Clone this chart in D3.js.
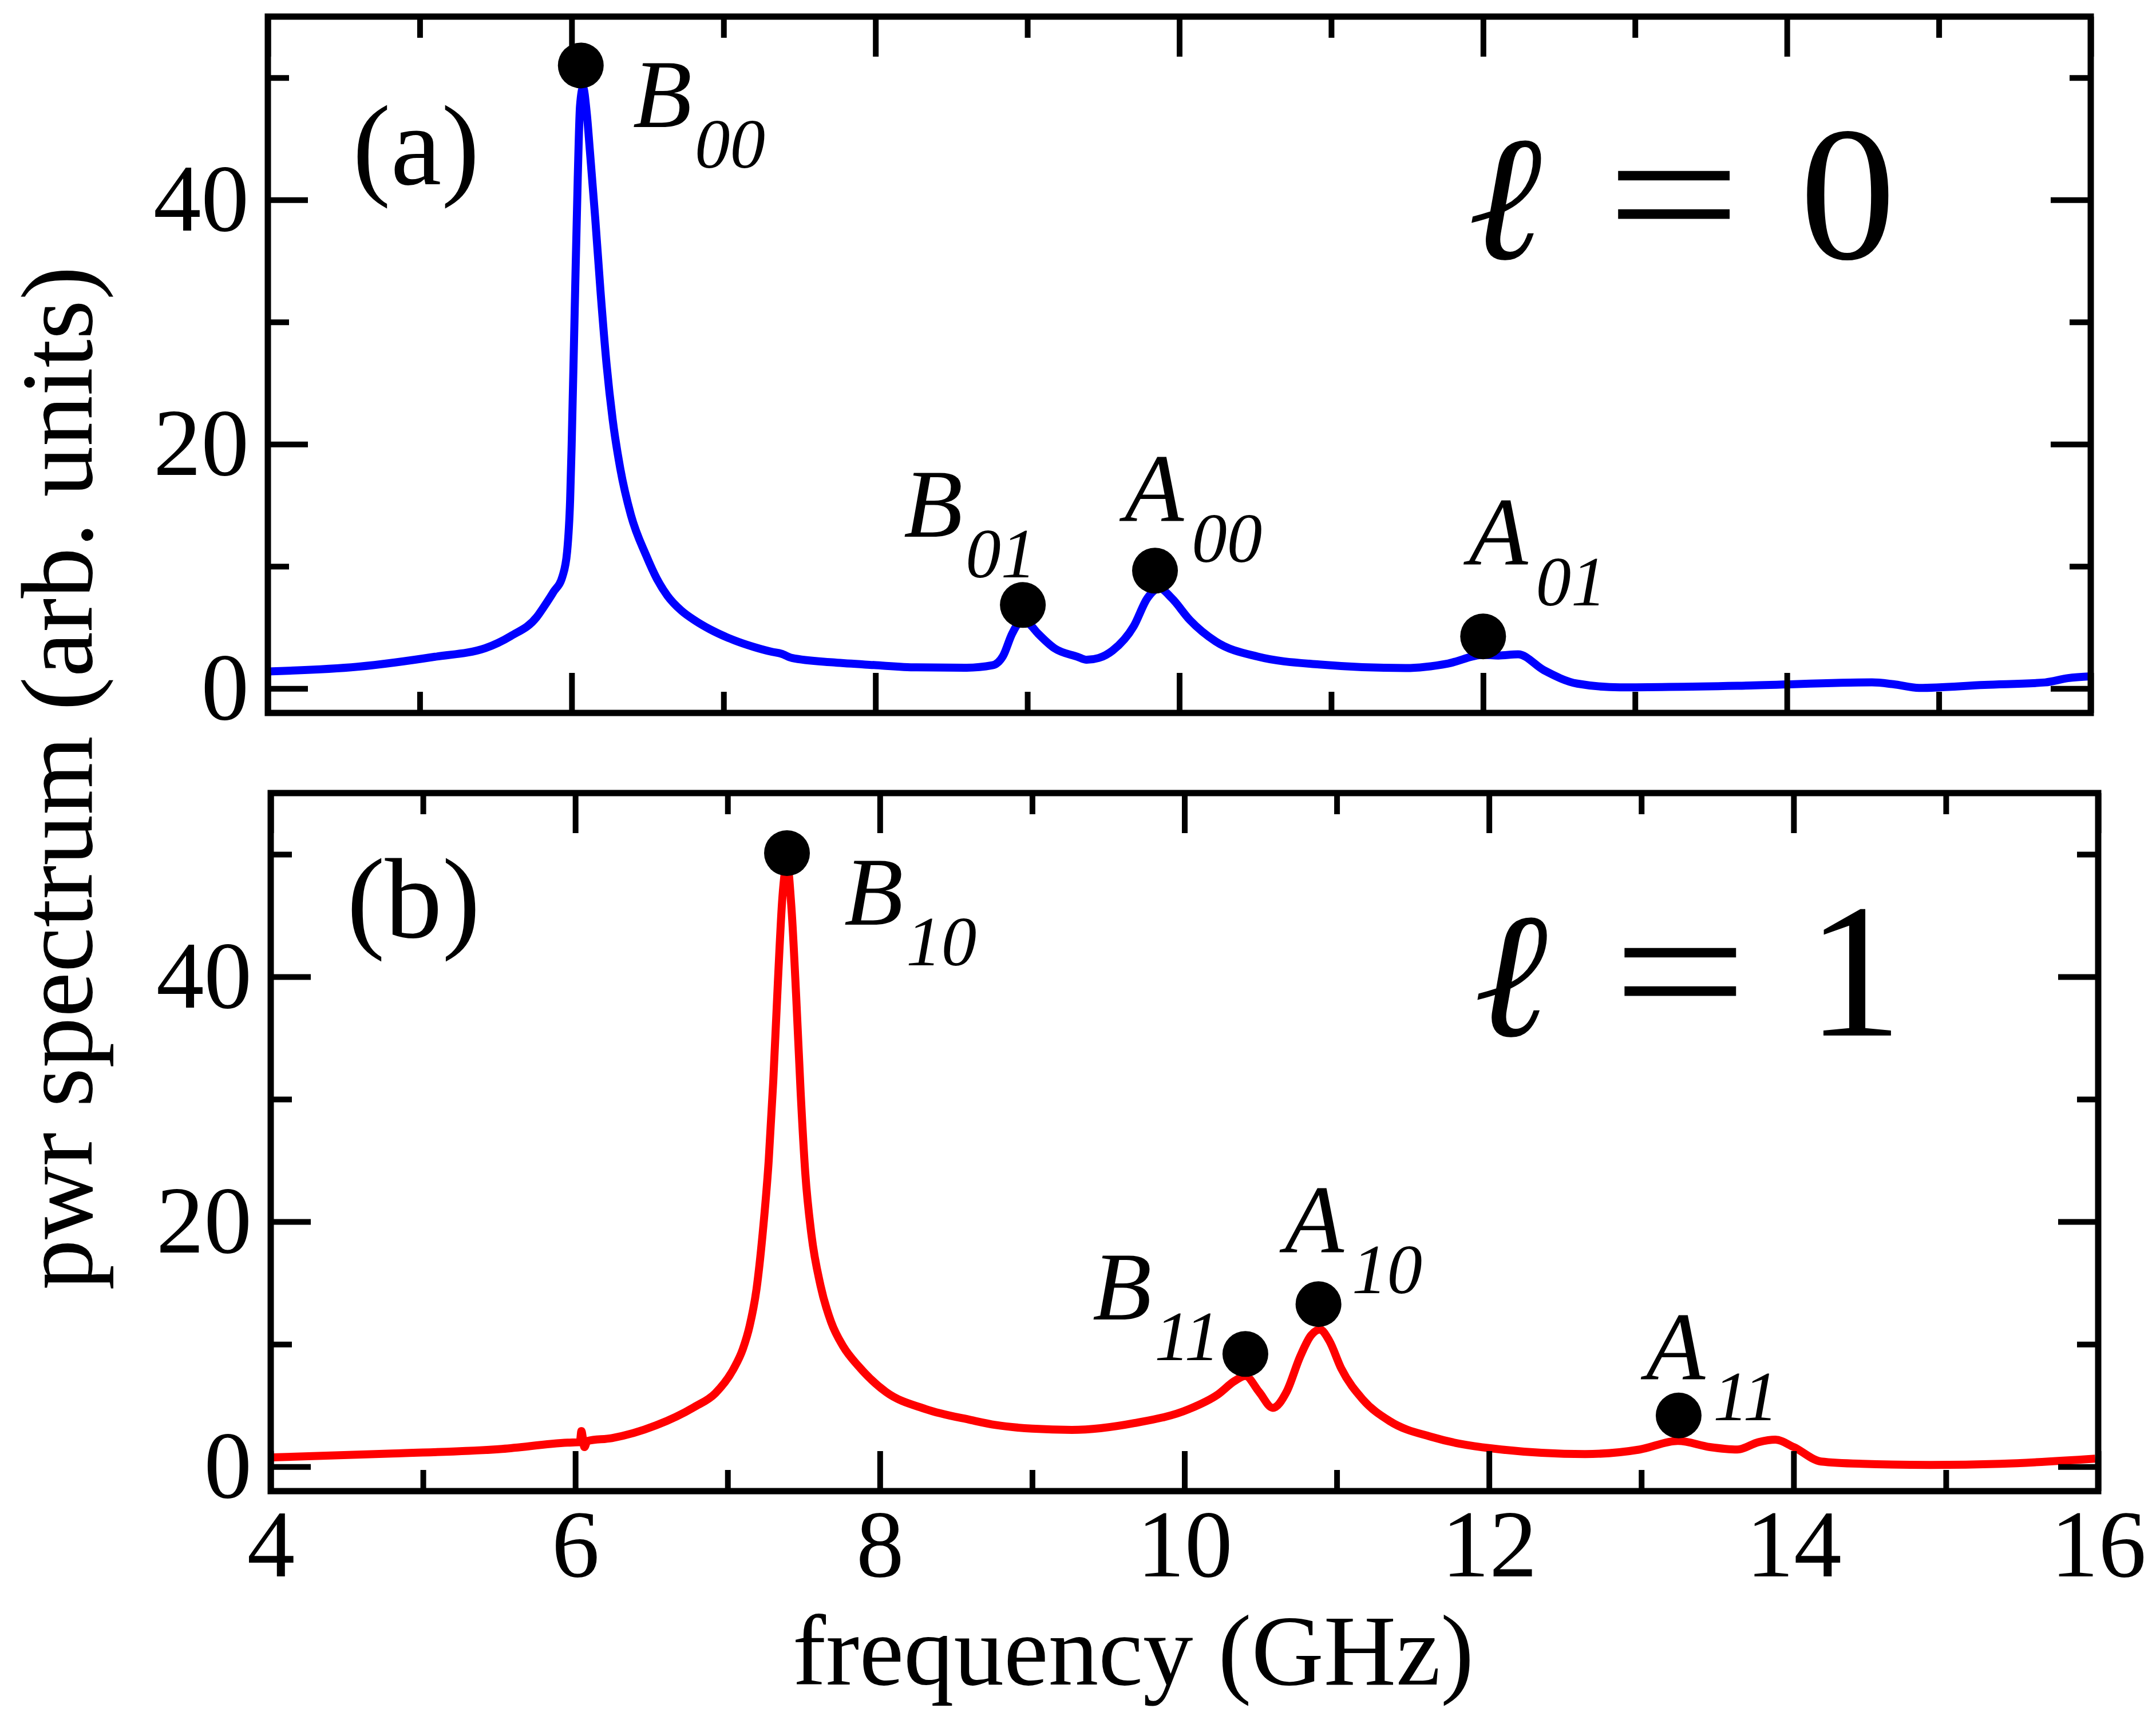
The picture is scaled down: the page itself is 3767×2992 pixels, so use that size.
<!DOCTYPE html>
<html>
<head>
<meta charset="utf-8">
<script src="https://cdn.jsdelivr.net/npm/d3@7"></script>
<style>
  html, body { margin: 0; padding: 0; background: #fff; }
  text { font-family: "Liberation Serif", "Times New Roman", serif; fill: #000; }
</style>
</head>
<body>
<div id="chart"></div>
<script>
// frequency (GHz) and power spectrum values
const freqA = [4.0, 4.59, 5.1, 5.43, 5.6, 5.77, 5.815, 5.88, 5.94, 5.97, 5.99, 6.0, 6.02, 6.04,
    6.055, 6.075, 6.1, 6.12, 6.155, 6.19, 6.23, 6.27, 6.32, 6.39, 6.49, 6.56, 6.63, 6.72, 6.82,
    6.91, 7.07, 7.2, 7.32, 7.38, 7.45, 7.73, 7.99, 8.27, 8.6, 8.77, 8.84, 8.9, 8.96, 9.01, 9.07,
    9.18, 9.33, 9.39, 9.47, 9.56, 9.7, 9.79, 9.87, 9.95, 10.07, 10.24, 10.52, 10.92, 11.49,
    11.77, 12.0, 12.1, 12.23, 12.4, 12.62, 12.9, 13.76, 14.56, 14.7, 14.87, 15.3, 15.7, 15.85, 16.0];
const pwrA = [1.4, 1.78, 2.6, 3.3, 4.3, 5.85, 6.65, 7.9, 9.2, 11.2, 15.5, 20, 31, 41.8,
    47.7, 49.2, 47.0, 44.0, 38.5, 32.5, 26.5, 22.0, 18.0, 14.2, 10.9, 9.0, 7.6, 6.4, 5.5,
    4.85, 3.95, 3.4, 3.0, 2.85, 2.5, 2.13, 1.92, 1.73, 1.7, 1.9, 2.67, 4.5, 5.5, 5.3, 4.5,
    3.28, 2.6, 2.35, 2.5, 3.1, 5.1, 7.4, 8.2, 7.4, 5.6, 3.85, 2.6, 1.97, 1.68,
    2.05, 2.75, 2.7, 2.8, 1.5, 0.4, 0.1, 0.25, 0.5, 0.35, 0.05, 0.3, 0.5, 0.85, 1.0];

const freqB = [4.0, 4.8, 5.52, 5.95, 6.03, 6.04, 6.06, 6.08, 6.24, 6.53, 6.78, 6.92, 7.04, 7.1,
    7.145, 7.19, 7.23, 7.27, 7.3, 7.33, 7.36, 7.39, 7.42, 7.45, 7.48, 7.51, 7.55, 7.61, 7.68,
    7.76, 7.86, 8.04, 8.3, 8.6, 8.76, 9.0, 9.26, 9.67, 10.03, 10.22, 10.33, 10.4, 10.49, 10.58,
    10.67, 10.76, 10.83, 10.89, 10.95, 11.03, 11.17, 11.35, 11.63, 12.08, 12.63, 12.99, 13.24,
    13.45, 13.63, 13.77, 13.88, 14.0, 14.18, 14.45, 14.9, 15.36, 15.98];
const pwrB = [0.75, 1.07, 1.45, 1.96, 2.0, 2.9, 1.6, 2.1, 2.33, 3.37, 4.86, 6.0, 8.0, 9.6,
    11.5, 14.5, 19.0, 25.0, 31.5, 39.5, 46.5, 49.2, 45.5, 38.5, 30.5, 24.0, 19.0, 14.8, 11.8,
    9.8, 8.2, 6.1, 4.7, 3.8, 3.4, 3.1, 3.0, 3.55, 4.7, 5.9, 7.0, 7.4, 6.1, 4.8,
    6.1, 9.0, 10.7, 11.2, 10.3, 8.0, 5.5, 3.7, 2.4, 1.4, 1.03, 1.4, 2.1,
    1.6, 1.4, 2.0, 2.2, 1.6, 0.42, 0.23, 0.14, 0.23, 0.65];

// mode markers: letter, subscript, frequency, power
const markersA = [
    { name: "B", sub: "00", f: 6.06, p: 51.0 },
    { name: "B", sub: "01", f: 8.97, p: 6.84 },
    { name: "A", sub: "00", f: 9.84, p: 9.65 },
    { name: "A", sub: "01", f: 12.0, p: 4.27 }
];
const markersB = [
    { name: "B", sub: "10", f: 7.39, p: 50.1 },
    { name: "B", sub: "11", f: 10.40, p: 9.2 },
    { name: "A", sub: "10", f: 10.88, p: 13.27 },
    { name: "A", sub: "11", f: 13.245, p: 4.18 }
];

// label placement relative to each marker (px)
const labelOffsetsA = [[91, 108], [-208, -119], [-53, -86], [-25, -125]];
const labelOffsetsB = [[100, 125], [-267, -60], [-59, -90], [-57, -63]];

const xMajor = [4, 6, 8, 10, 12, 14, 16];
const xMinor = [5, 7, 9, 11, 13, 15];
const yMajor = [0, 20, 40];
const yMinor = [10, 30, 50];

const W = 3767, H = 2992;

const svg = d3.select("#chart").append("svg")
    .attr("width", W)
    .attr("height", H)
    .attr("viewBox", `0 0 ${W} ${H}`);

const panels = [
    { left: 468, right: 3653, top: 29, bottom: 1246, freq: freqA, pwr: pwrA, color: "#0000ff",
      markers: markersA, offsets: labelOffsetsA, tag: "(a)", tagX: 616, tagY: 322, ell: "0", xLabels: false },
    { left: 473, right: 3666, top: 1386, bottom: 2606, freq: freqB, pwr: pwrB, color: "#ff0000",
      markers: markersB, offsets: labelOffsetsB, tag: "(b)", tagX: 606, tagY: 1638, ell: "1", xLabels: true }
];

panels.forEach(function(pn, i) {
    let x = d3.scaleLinear().domain([4, 16]).range([pn.left, pn.right]);
    let y = d3.scaleLinear().domain([-2, 55]).range([pn.bottom, pn.top]);
    let g = svg.append("g");

    // clip for curve
    g.append("clipPath").attr("id", "clip" + i)
        .append("rect")
        .attr("x", pn.left).attr("y", pn.top)
        .attr("width", pn.right - pn.left).attr("height", pn.bottom - pn.top);

    let pts = pn.freq.map((f, k) => [f, pn.pwr[k]]);
    let line = d3.line()
        .x(d => x(d[0]))
        .y(d => y(d[1]))
        .curve(d3.curveMonotoneX);

    g.append("path")
        .datum(pts)
        .attr("clip-path", `url(#clip${i})`)
        .attr("d", line)
        .attr("fill", "none")
        .attr("stroke", pn.color)
        .attr("stroke-width", 14)
        .attr("stroke-linejoin", "round");

    // ticks, inside on all four sides
    function addAxis(axis, tx, ty, withLabels, fontSize) {
        let a = g.append("g")
            .attr("transform", `translate(${tx},${ty})`)
            .call(axis);
        a.select(".domain").remove();
        a.selectAll(".tick line").attr("stroke", "#000").attr("stroke-width", 10);
        if (withLabels) {
            a.selectAll(".tick text")
                .attr("fill", "#000")
                .style("font-family", '"Liberation Serif", "Times New Roman", serif')
                .style("font-size", fontSize + "px");
        } else {
            a.selectAll(".tick text").remove();
        }
    }

    addAxis(d3.axisBottom(x).tickValues(xMajor).tickSize(-70).tickPadding(30).tickFormat(d3.format("d")),
        0, pn.bottom, pn.xLabels, 167);
    addAxis(d3.axisBottom(x).tickValues(xMinor).tickSize(-37), 0, pn.bottom, false);
    addAxis(d3.axisTop(x).tickValues(xMajor).tickSize(-70), 0, pn.top, false);
    addAxis(d3.axisTop(x).tickValues(xMinor).tickSize(-37), 0, pn.top, false);
    addAxis(d3.axisLeft(y).tickValues(yMajor).tickSize(-70).tickPadding(33).tickFormat(d3.format("d")),
        pn.left, 0, true, 167);
    addAxis(d3.axisLeft(y).tickValues(yMinor).tickSize(-37), pn.left, 0, false);
    addAxis(d3.axisRight(y).tickValues(yMajor).tickSize(-70), pn.right, 0, false);
    addAxis(d3.axisRight(y).tickValues(yMinor).tickSize(-37), pn.right, 0, false);

    // frame
    g.append("rect")
        .attr("x", pn.left).attr("y", pn.top)
        .attr("width", pn.right - pn.left).attr("height", pn.bottom - pn.top)
        .attr("fill", "none")
        .attr("stroke", "#000")
        .attr("stroke-width", 11);

    // markers
    g.selectAll(".dot")
        .data(pn.markers)
        .enter().append("circle")
        .attr("class", "dot")
        .attr("cx", d => x(d.f))
        .attr("cy", d => y(d.p))
        .attr("r", 40)
        .attr("fill", "#000");

    // mode labels
    let lab = g.selectAll(".modelabel")
        .data(pn.markers)
        .enter().append("text")
        .attr("class", "modelabel")
        .attr("x", (d, k) => x(d.f) + pn.offsets[k][0])
        .attr("y", (d, k) => y(d.p) + pn.offsets[k][1])
        .style("font-style", "italic")
        .style("font-size", "169px");
    lab.append("tspan").text(d => d.name);
    lab.append("tspan")
        .attr("dx", d => d.name === "A" ? 14 : 5)
        .attr("dy", 71)
        .style("font-size", "123px")
        .text(d => d.sub);

    // panel tag
    g.append("text")
        .attr("x", pn.tagX)
        .attr("y", pn.tagY)
        .style("font-size", "200px")
        .text(pn.tag);

    // l = n annotation
    let base = y(35.2);
    g.append("text")
        .attr("x", x(11.9))
        .attr("y", base)
        .style("font-family", '"DejaVu Serif", serif')
        .style("font-style", "italic")
        .style("font-size", "310px")
        .text("\u2113");
    g.append("text")
        .attr("transform", `translate(${x(13.255)},${base}) scale(1.25,1)`)
        .attr("text-anchor", "middle")
        .style("font-size", "335px")
        .text("=");
    g.append("text")
        .attr("x", x(14.4))
        .attr("y", base)
        .attr("text-anchor", "middle")
        .style("font-size", "335px")
        .text(pn.ell);
});

// axis titles
svg.append("text")
    .attr("transform", "translate(160,1360) rotate(-90)")
    .attr("text-anchor", "middle")
    .style("font-size", "177px")
    .text("pwr spectrum (arb. units)");

svg.append("text")
    .attr("x", 1980)
    .attr("y", 2944)
    .attr("text-anchor", "middle")
    .style("font-size", "175px")
    .text("frequency (GHz)");
</script>
</body>
</html>
